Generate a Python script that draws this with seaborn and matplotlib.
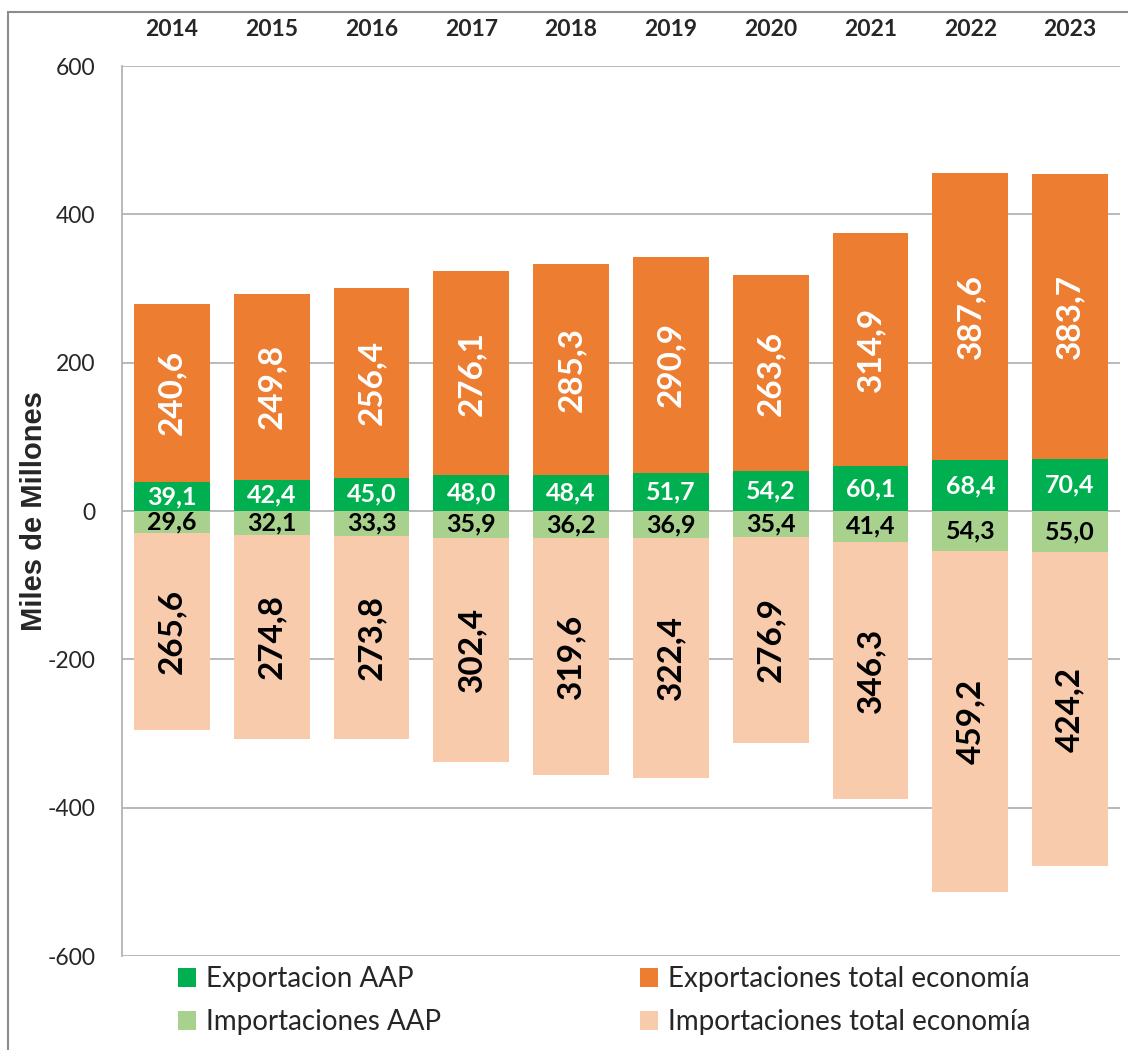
import matplotlib
matplotlib.use("Agg")
import matplotlib.pyplot as plt
import seaborn as sns
import pandas as pd
from matplotlib.patches import Rectangle, Patch

# ---- data ----
years = ["2014", "2015", "2016", "2017", "2018", "2019", "2020", "2021", "2022", "2023"]
export_aap = [39.1, 42.4, 45.0, 48.0, 48.4, 51.7, 54.2, 60.1, 68.4, 70.4]
export_total = [240.6, 249.8, 256.4, 276.1, 285.3, 290.9, 263.6, 314.9, 387.6, 383.7]
import_aap = [29.6, 32.1, 33.3, 35.9, 36.2, 36.9, 35.4, 41.4, 54.3, 55.0]
import_total = [265.6, 274.8, 273.8, 302.4, 319.6, 322.4, 276.9, 346.3, 459.2, 424.2]
y_ticks = [-600, -400, -200, 0, 200, 400, 600]
series_names = ["Exportacion AAP", "Importaciones AAP",
                "Exportaciones total economía", "Importaciones total economía"]

C_GREEN = "#00B050"
C_ORANGE = "#ED7D31"
C_LGREEN = "#A9D18E"
C_PEACH = "#F8CBAD"
C_GRID = "#b3b3b3"

sns.set_style("white")
plt.rcParams["font.family"] = ["Lato", "DejaVu Sans"]

df = pd.DataFrame({
    "year": years,
    "exp_aap": export_aap,
    "exp_stack": [a + b for a, b in zip(export_aap, export_total)],
    "imp_aap": [-v for v in import_aap],
    "imp_stack": [-(a + b) for a, b in zip(import_aap, import_total)],
})

fig = plt.figure(figsize=(11.28, 10.5), dpi=100)
ax = fig.add_axes([0.1082, 0.0895, 0.9929 - 0.1082, 0.9371 - 0.0895])

bar_kw = dict(width=0.76, saturation=1, linewidth=0, ax=ax, zorder=2)
sns.barplot(data=df, x="year", y="exp_stack", color=C_ORANGE, **bar_kw)
sns.barplot(data=df, x="year", y="exp_aap", color=C_GREEN, **bar_kw)
sns.barplot(data=df, x="year", y="imp_stack", color=C_PEACH, **bar_kw)
sns.barplot(data=df, x="year", y="imp_aap", color=C_LGREEN, **bar_kw)

ax.set_ylim(-600, 600)
ax.set_xlim(-0.5, len(years) - 0.5)
ax.set_yticks(y_ticks)
ax.set_yticklabels([str(t) for t in y_ticks], fontsize=16.5)
ax.set_axisbelow(True)
ax.yaxis.grid(True, color=C_GRID, linewidth=1.3, zorder=0)
for s in ["top", "right", "bottom"]:
    ax.spines[s].set_visible(False)
ax.spines["left"].set_color(C_GRID)
ax.spines["left"].set_linewidth(1.3)

ax.xaxis.tick_top()
ax.set_xticks(range(len(years)))
ax.set_xticklabels(years, fontsize=16.5, fontweight="bold")
ax.tick_params(axis="x", length=0, pad=19)
ax.tick_params(axis="y", length=0, pad=19)
ax.set_xlabel("")
ax.set_ylabel("Miles de Millones", fontsize=21, fontweight="bold",
              family=["Liberation Sans", "DejaVu Sans"])
ax.yaxis.set_label_coords((48 - 122) / 998, 0.5)


def fmt(v):
    return f"{v:.1f}".replace(".", ",")


for i in range(len(years)):
    g = export_aap[i]
    o = export_total[i]
    lg = import_aap[i]
    p = import_total[i]
    ax.text(i, g / 2, fmt(g), ha="center", va="center", color="white",
            fontsize=18, fontweight="bold", zorder=5)
    ax.text(i, g + o / 2, fmt(o), ha="center", va="center", color="white",
            fontsize=24, fontweight="bold", rotation=90, zorder=5)
    ax.text(i, -lg / 2, fmt(lg), ha="center", va="center", color="black",
            fontsize=18, fontweight="bold", zorder=5)
    ax.text(i, -lg - p / 2, fmt(p), ha="center", va="center", color="black",
            fontsize=24, fontweight="bold", rotation=90, zorder=5)

leg_kw = dict(frameon=False, fontsize=20, handlelength=0.65, handleheight=0.65,
              handletextpad=0.35, labelspacing=0.62, borderpad=0, borderaxespad=0,
              loc="upper left")
h1 = [Patch(facecolor=C_GREEN, edgecolor="none"), Patch(facecolor=C_LGREEN, edgecolor="none")]
h2 = [Patch(facecolor=C_ORANGE, edgecolor="none"), Patch(facecolor=C_PEACH, edgecolor="none")]
fig.legend(h1, series_names[:2], bbox_to_anchor=(178 / 1128, 1 - 966 / 1050), **leg_kw)
fig.legend(h2, series_names[2:], bbox_to_anchor=(640 / 1128, 1 - 966 / 1050), **leg_kw)

fig.patches.append(Rectangle((8 / 1128, -0.2), 1.5, 1.2 - 12 / 1050,
                             transform=fig.transFigure, fill=False,
                             edgecolor="#8c8c8c", linewidth=1.5))

fig.savefig("out.png", dpi=100)
